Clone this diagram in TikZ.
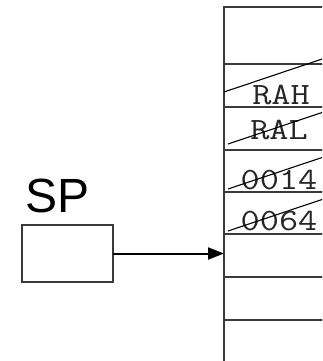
\documentclass[tikz,border=0pt]{standalone}
\usepackage{fontspec}
\setmainfont{Liberation Sans}
\usetikzlibrary{arrows.meta}
\definecolor{linegray}{HTML}{3A3A3A}
% wide typewriter lettering for the stack entries
\newcommand{\widett}[1]{\scalebox{1.2}[1]{#1}}
\begin{document}
\begin{tikzpicture}[x=1pt, y=-1pt,
  cell/.style={draw=linegray, line width=1.4pt, minimum width=120pt,
               anchor=north west, inner sep=0pt, outer sep=0pt},
  entry/.style={font=\ttfamily\fontsize{31}{31}\selectfont, anchor=base,
                inner sep=0pt, text=black!85},
  strike/.style={line width=1.1pt, black},
  regbox/.style={draw=linegray, line width=1.3pt, anchor=north west,
                 inner sep=0pt, outer sep=0pt, minimum width=91pt, minimum height=57pt},
  reglabel/.style={font=\fontsize{48}{48}\selectfont, anchor=base west, inner sep=0pt},
  pointer/.style={line width=2pt, -{Triangle[length=16pt, width=12pt]}}
]
\useasboundingbox (0,0) rectangle (322,361);
\clip (0,0) rectangle (322,361);

% stack cells, top to bottom
\node[cell, minimum height=57pt] (c0) at (224,7)   {};
\node[cell, minimum height=43pt] (c1) at (224,64)  {};
\node[cell, minimum height=43pt] (c2) at (224,107) {};
\node[cell, minimum height=42pt] (c3) at (224,150) {};
\node[cell, minimum height=42pt] (c4) at (224,192) {};
\node[cell, minimum height=43pt] (c5) at (224,234) {};
\node[cell, minimum height=43pt] (c6) at (224,277) {};
\node[cell, minimum height=50pt] (c7) at (224,320) {};

% stored values
\node[entry] (rah) at (281,104) {\widett{RAH}};
\node[entry] (ral) at (279,139) {\widett{RAL}};
\node[entry] (v14) at (279,189) {\widett{0014}};
\node[entry] (v64) at (279,230) {\widett{0064}};

% popped entries are struck through
\draw[strike] (224,92)  -- (340,53);
\draw[strike] (228,144) -- (340,106.5);
\draw[strike] (228,189) -- (340,151.5);
\draw[strike] (228,231) -- (340,193.5);

% stack pointer register
\node[reglabel] (splabel) at (25.5,212) {SP};
\node[regbox] (sp) at (22,225) {};
\draw[pointer] (sp.east) -- (sp.east -| c5.west);
\end{tikzpicture}
\end{document}
